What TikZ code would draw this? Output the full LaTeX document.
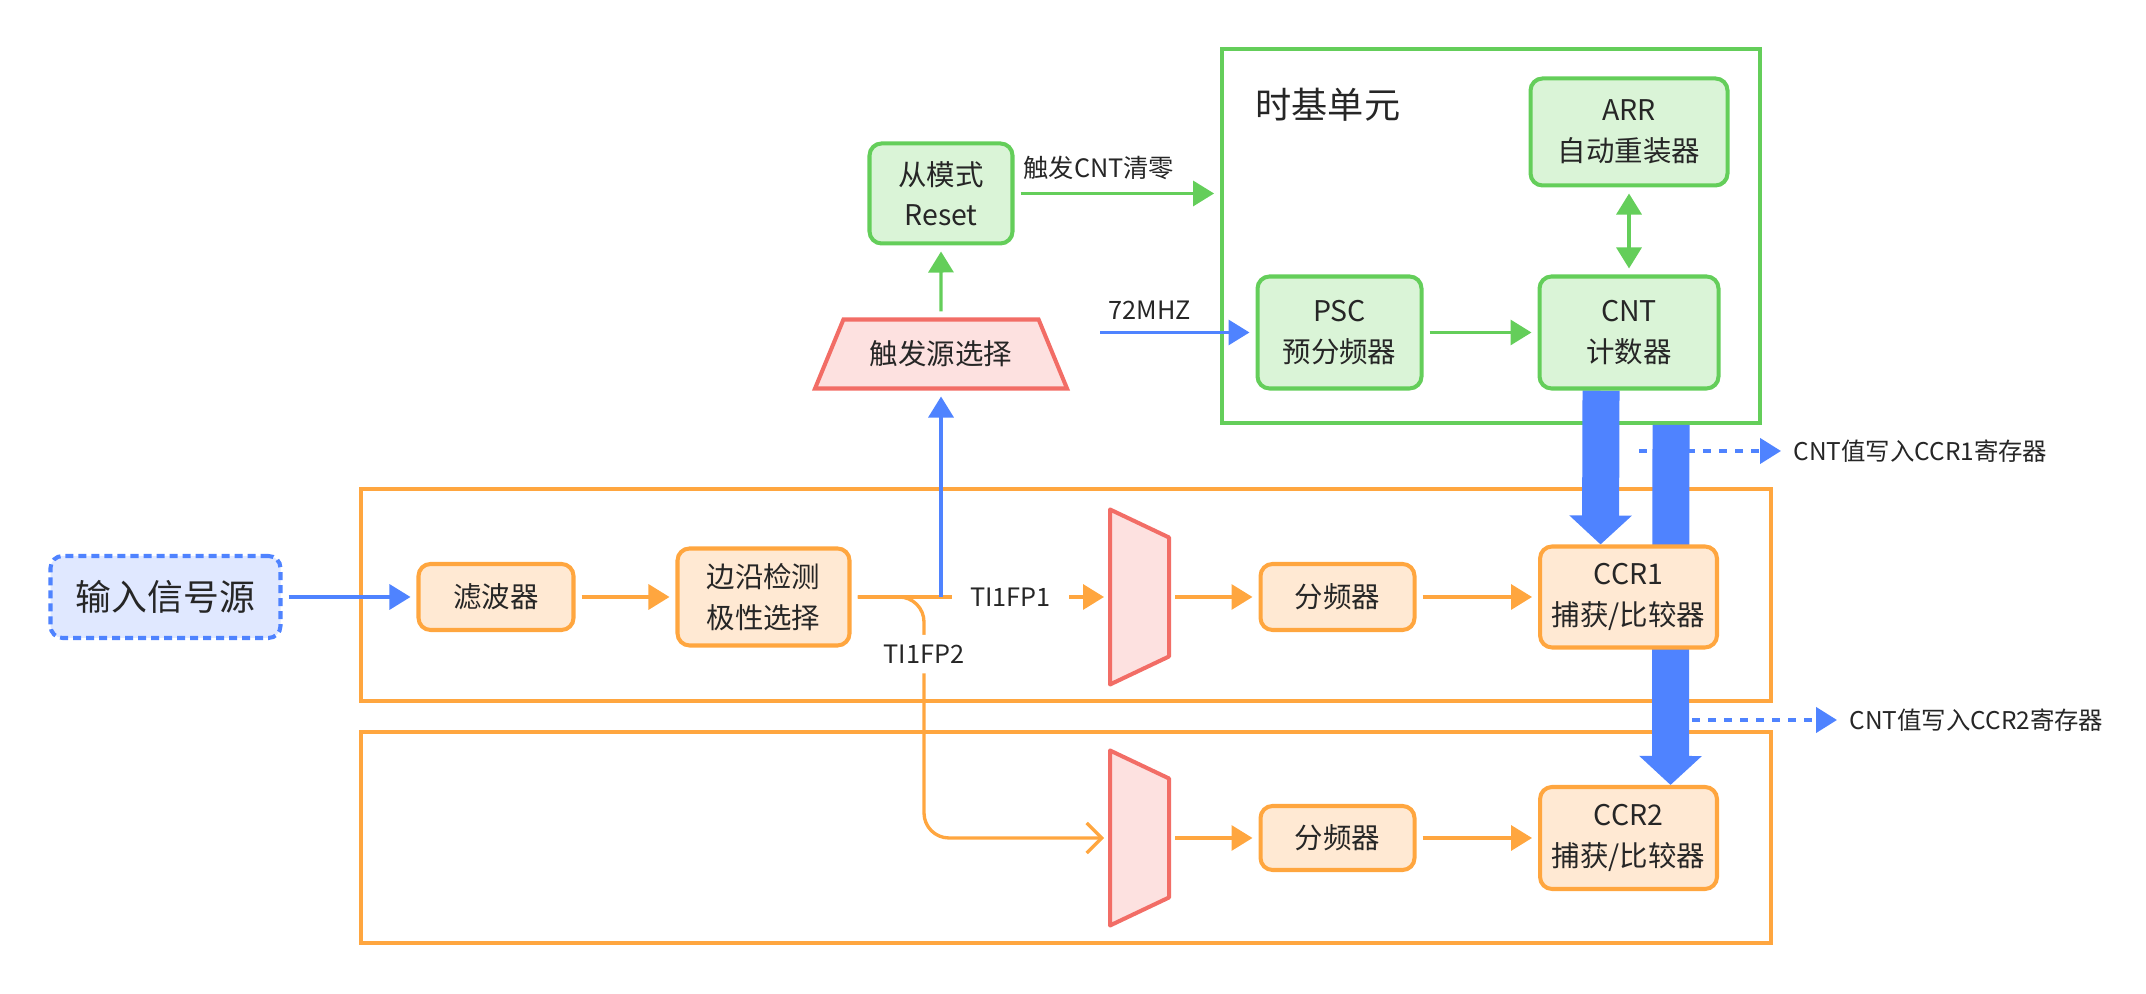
\documentclass[tikz,border=0pt]{standalone}
\usepackage{fontspec}
\setmainfont{Noto Sans CJK SC}
\usepackage{tikz}
\usetikzlibrary{arrows.meta,shapes.geometric,backgrounds}
\definecolor{tgreen}{HTML}{64CE5A}
\definecolor{tgreenfill}{HTML}{DAF4D7}
\definecolor{torange}{HTML}{FFA63F}
\definecolor{torangefill}{HTML}{FFE9D3}
\definecolor{tblue}{HTML}{4F83FF}
\definecolor{tbluefill}{HTML}{E0E8FF}
\definecolor{tred}{HTML}{F26D66}
\definecolor{tredfill}{HTML}{FDE1E0}
\definecolor{ink}{HTML}{262626}
\newcommand{\muxbody}[1]{\draw[draw=tred, fill=tredfill, line width=1.15pt, line join=round]
    (#1.north west) -- ([yshift=-0.28cm]#1.north east) -- ([yshift=0.28cm]#1.south east) -- (#1.south west) -- cycle;}

\begin{document}
\begin{tikzpicture}[>={Triangle[length=0.21cm, width=0.25cm]}, font=\fontsize{8.1}{11.5}\selectfont, text=ink,
    conn/.style={line width=0.95pt, shorten <=0.06cm, shorten >=0.06cm},
    gbox/.style={draw=tgreen, fill=tgreenfill, line width=1.15pt, rounded corners=0.12cm, align=center},
    obox/.style={draw=torange, fill=torangefill, line width=1.15pt, rounded corners=0.12cm, align=center},
    mux/.style={minimum width=0.59cm, minimum height=1.75cm, inner sep=0pt, outer sep=0pt},
    unitframe/.style={draw=#1, line width=1.1pt, inner sep=0pt},
    lbl/.style={font=\fontsize{7.2}{9}\selectfont, text=ink},
    gapfill/.style={fill=white, inner xsep=0.18cm, inner ysep=0.1cm},
    dasharrow/.style={draw=tblue, line width=1.2pt, dash pattern=on 0.08cm off 0.08cm, ->},
    fat/.style={draw=tblue, line width=0.37cm, -{Triangle[length=0.29cm, width=0.61cm]}}]
        \useasboundingbox (0,0) rectangle (21.46,9.94);

        \node[draw=tblue, fill=tbluefill, dash pattern=on 0.08cm off 0.05cm, line width=1.15pt, rounded corners=0.12cm,
            minimum width=2.30cm, minimum height=0.82cm, font=\fontsize{10.2}{12}\selectfont] (src) at (1.655,3.97) {输入信号源};
        \node[obox, minimum width=1.55cm, minimum height=0.66cm] (filt) at (4.96,3.97) {滤波器};
        \node[obox, minimum width=1.72cm, minimum height=0.97cm] (edge) at (7.635,3.97) {边沿检测\\极性选择};
        \node[mux] (mux1) at (11.395,3.97) {};
        \muxbody{mux1}
        \node[obox, minimum width=1.54cm, minimum height=0.66cm] (div1) at (13.375,3.97) {分频器};
        \node[obox, minimum width=1.72cm, minimum height=1.01cm] (ccr1) at (16.285,3.97) {CCR1\\捕获/比较器};
        \node[mux] (mux2) at (11.395,1.56) {};
        \muxbody{mux2}
        \node[obox, minimum width=1.54cm, minimum height=0.64cm] (div2) at (13.375,1.56) {分频器};
        \node[obox, minimum width=1.72cm, minimum height=1.02cm] (ccr2) at (16.285,1.56) {CCR2\\捕获/比较器};

        \node[trapezium, trapezium angle=60.3, trapezium stretches body, draw=tred, fill=tredfill, line width=1.15pt,
            minimum width=2.52cm, minimum height=0.69cm] (trig) at (9.41,6.40) {触发源选择};
        \node[gbox, minimum width=1.43cm, minimum height=1.0cm] (slave) at (9.41,8.005) {从模式\\Reset};
        \node[gbox, minimum width=1.64cm, minimum height=1.12cm] (psc) at (13.395,6.615) {PSC\\预分频器};
        \node[gbox, minimum width=1.79cm, minimum height=1.12cm] (cnt) at (16.29,6.615) {CNT\\计数器};
        \node[gbox, minimum width=1.97cm, minimum height=1.07cm] (arr) at (16.29,8.62) {ARR\\自动重装器};
        \node[anchor=west, font=\fontsize{10.3}{12}\selectfont] (tbtitle) at (12.43,8.89) {时基单元};

        \node[lbl, anchor=west, font=\fontsize{6.95}{9}\selectfont] (w1) at (17.81,5.43) {CNT值写入CCR1寄存器};
        \node[lbl, anchor=west, font=\fontsize{6.95}{9}\selectfont] (w2) at (18.37,2.74) {CNT值写入CCR2寄存器};
        \coordinate (w1s) at (16.39,5.43);
        \coordinate (w2s) at (16.92,2.74);
        \coordinate (clk) at (11.00,6.615);

        \begin{pgfonlayer}{background}
            \node[unitframe=tgreen, minimum width=5.38cm, minimum height=3.74cm] (tb) at (14.91,7.58) {};
            \node[unitframe=torange, minimum width=14.10cm, minimum height=2.12cm] (row1) at (10.66,3.99) {};
            \node[unitframe=torange, minimum width=14.10cm, minimum height=2.11cm] (row2) at (10.66,1.565) {};
            \draw[dasharrow] (w1s) -- (w1.west);
            \draw[dasharrow] (w2s) -- (w2.west);
            \draw[fat] ([xshift=-0.28cm]cnt.south) -- ([xshift=-0.28cm]ccr1.north);
            \draw[fat] ([xshift=0.42cm]cnt.south |- tb.south) -- ([xshift=0.42cm]ccr2.north);
        \end{pgfonlayer}

        \draw[conn, tblue, ->] (src.east) -- (filt.west);
        \draw[conn, torange, ->] (filt.east) -- (edge.west);
        \draw[conn, torange, ->] (edge.east) -- node[lbl, gapfill, pos=0.615] (fp1) {TI1FP1} (mux1.west);
        \draw[conn, torange, -{Straight Barb[length=0.15cm, width=0.3cm]}, rounded corners=0.25cm]
            (edge.east) -- (9.24,3.97) -- node[lbl, gapfill, pos=0.237] (fp2) {TI1FP2} (9.24,1.56) -- (mux2.west);
        \draw[conn, tblue, ->, shorten <=0pt] (trig.south |- edge.east) -- (trig.south);
        \draw[conn, torange, ->] (mux1.east) -- (div1.west);
        \draw[conn, torange, ->] (div1.east) -- (ccr1.west);
        \draw[conn, torange, ->] (mux2.east) -- (div2.west);
        \draw[conn, torange, ->] (div2.east) -- (ccr2.west);

        \draw[conn, tgreen, ->] (trig.north) -- (slave.south);
        \draw[conn, tgreen, ->] (slave.east) -- node[lbl, above, pos=0.41] {触发CNT清零} (slave.east -| tb.west);
        \draw[conn, tblue, ->, shorten <=0pt] (clk) -- node[lbl, above, pos=0.32] {72MHZ} (psc.west);
        \draw[conn, tgreen, ->] (psc.east) -- (cnt.west);
        \draw[conn, tgreen, <->] (arr.south) -- (cnt.north);
    \end{tikzpicture}
\end{document}
